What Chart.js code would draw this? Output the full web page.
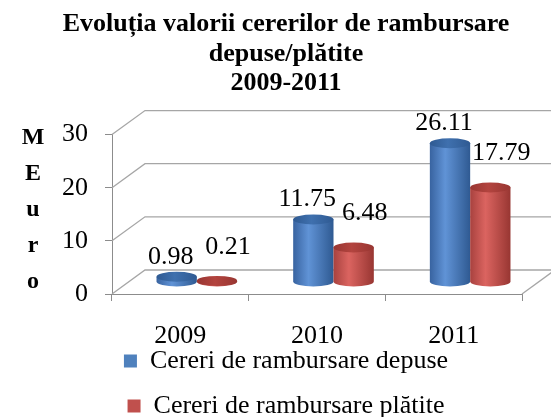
<!DOCTYPE html>
<html>
<head>
<meta charset="utf-8">
<script src="https://cdn.jsdelivr.net/npm/chart.js@4.4.0/dist/chart.umd.min.js"></script>
<style>
  html, body { margin: 0; padding: 0; background: #ffffff; }
</style>
</head>
<body>
<canvas id="myChart" width="551" height="417"></canvas>
<script>
// data
var categories = ['2009', '2010', '2011'];
var depuse = [0.98, 11.75, 26.11];
var platite = [0.21, 6.48, 17.79];
var yTicks = [0, 10, 20, 30];
var seriesNames = ['Cereri de rambursare depuse', 'Cereri de rambursare plătite'];
var titleLines = ['Evoluția valorii cererilor de rambursare', 'depuse/plătite', '2009-2011'];
var yTitle = ['M', 'E', 'u', 'r', 'o'];

// 3d look
var DX = 33, DY = -24;
var shades = [
    { edge: '#3863a0', light: '#6093d6', dark: '#2f5a92', top: '#3f70ae', solid: '#4f81bd' },
    { edge: '#a8423f', light: '#db6460', dark: '#983632', top: '#b3443f', solid: '#c0504d' }
];
var labelShift = [{ dx: -6, dy: -20 }, { dx: 11, dy: -34 }];

Chart.defaults.font.family = "'Liberation Serif', 'Times New Roman', serif";
Chart.defaults.color = '#000000';

function drawCylinder(ctx, cx, top, base, rx, shade) {
    var ry = 5;
    var g = ctx.createLinearGradient(cx - rx, 0, cx + rx, 0);
    g.addColorStop(0, shade.edge);
    g.addColorStop(0.38, shade.light);
    g.addColorStop(1, shade.dark);
    ctx.beginPath();
    ctx.moveTo(cx - rx, top);
    ctx.lineTo(cx - rx, base);
    ctx.ellipse(cx, base, rx, ry, 0, Math.PI, 0, true);
    ctx.lineTo(cx + rx, top);
    ctx.closePath();
    ctx.fillStyle = g;
    ctx.fill();
    var t = ctx.createLinearGradient(cx - rx, 0, cx + rx, 0);
    t.addColorStop(0, shade.dark);
    t.addColorStop(0.45, shade.top);
    t.addColorStop(1, shade.dark);
    ctx.beginPath();
    ctx.ellipse(cx, top, rx, ry, 0, 0, Math.PI * 2);
    ctx.fillStyle = t;
    ctx.fill();
}

var depthPlugin = {
    id: 'depth3d',
    beforeDatasetsDraw: function (chart) {
        var ctx = chart.ctx, area = chart.chartArea, ys = chart.scales.y;
        ctx.save();
        ctx.strokeStyle = '#a6a6a6';
        ctx.lineWidth = 1.3;
        yTicks.forEach(function (v) {
            var py = ys.getPixelForValue(v);
            ctx.beginPath();
            ctx.moveTo(area.left, py);
            ctx.lineTo(area.left + DX, py + DY);
            ctx.lineTo(area.right + DX, py + DY);
            ctx.stroke();
        });
        ctx.beginPath();
        ctx.moveTo(area.right, area.bottom);
        ctx.lineTo(area.right + DX, area.bottom + DY);
        ctx.stroke();

        chart.data.datasets.forEach(function (ds, i) {
            chart.getDatasetMeta(i).data.forEach(function (bar) {
                drawCylinder(ctx, bar.x + DX / 2, bar.y + DY / 2, bar.base + DY / 2, bar.width / 2, shades[i]);
            });
        });
        ctx.restore();
        return false;
    },
    afterDraw: function (chart) {
        var ctx = chart.ctx, area = chart.chartArea;
        ctx.save();
        ctx.fillStyle = '#000000';
        ctx.textAlign = 'center';
        ctx.textBaseline = 'middle';
        ctx.font = "26px 'Liberation Serif', 'Times New Roman', serif";
        chart.data.datasets.forEach(function (ds, i) {
            chart.getDatasetMeta(i).data.forEach(function (bar, j) {
                ctx.fillText(ds.data[j].toFixed(2),
                    bar.x + DX / 2 + labelShift[i].dx,
                    bar.y + DY / 2 + labelShift[i].dy);
            });
        });
        ctx.font = "bold 24px 'Liberation Serif', 'Times New Roman', serif";
        yTitle.forEach(function (ch, k) {
            ctx.fillText(ch, area.left - 79, area.top + 3 + k * 36);
        });
        ctx.restore();
    }
};

var ctx = document.getElementById('myChart').getContext('2d');
var chart = new Chart(ctx, {
    type: 'bar',
    data: {
        labels: categories,
        datasets: [{
            label: seriesNames[0],
            data: depuse,
            backgroundColor: shades[0].solid,
            categoryPercentage: 0.59,
            barPercentage: 1
        }, {
            label: seriesNames[1],
            data: platite,
            backgroundColor: shades[1].solid,
            categoryPercentage: 0.59,
            barPercentage: 1
        }]
    },
    options: {
        responsive: false,
        animation: false,
        layout: { padding: { left: 50, right: 29, top: 0, bottom: 0 } },
        plugins: {
            title: {
                display: true,
                text: titleLines,
                font: { size: 26, weight: 'bold', lineHeight: 1.135 },
                padding: { top: 10, bottom: 36 }
            },
            legend: {
                position: 'bottom',
                maxHeight: 88,
                labels: {
                    boxWidth: 13,
                    boxHeight: 13,
                    padding: 19,
                    font: { size: 26 }
                }
            },
            tooltip: { enabled: false }
        },
        scales: {
            x: {
                grid: { offset: true, drawOnChartArea: false, tickLength: 7, color: '#8c8c8c' },
                border: { color: '#8c8c8c' },
                ticks: { padding: 20, font: { size: 26 } },
                afterFit: function (s) {
                    s.height = 35;
                    // labels sit lower than the squeezed box, so do not clip them
                    s._computeLabelArea = function () { return null; };
                }
            },
            y: {
                min: 0,
                max: 30,
                afterBuildTicks: function (s) { s.ticks = yTicks.map(function (v) { return { value: v }; }); },
                grid: { drawOnChartArea: false, tickLength: 7, color: '#8c8c8c' },
                border: { color: '#8c8c8c' },
                ticks: { padding: 17, font: { size: 26 } },
                afterFit: function (s) { s.width = 62; }
            }
        }
    },
    plugins: [depthPlugin]
});
</script>
</body>
</html>
